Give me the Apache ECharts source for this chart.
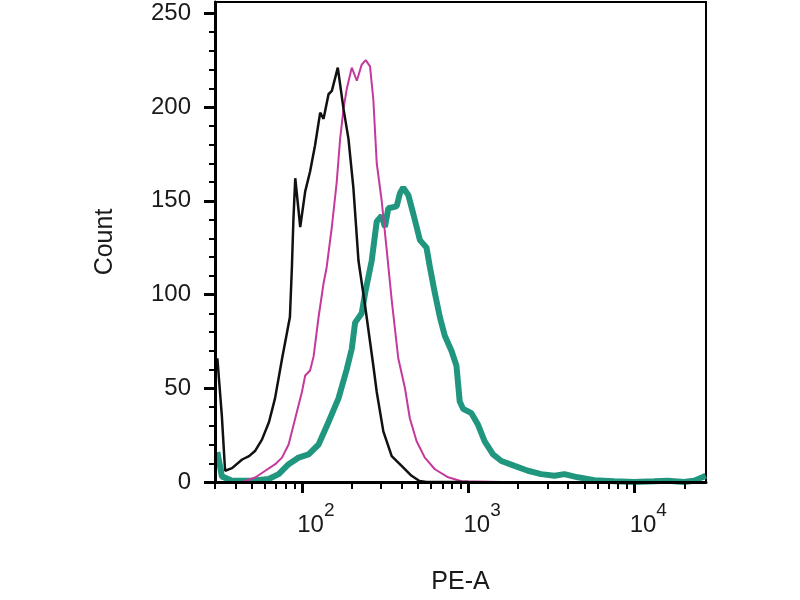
<!DOCTYPE html>
<html>
<head>
<meta charset="utf-8">
<script src="https://cdn.jsdelivr.net/npm/echarts@6/dist/echarts.min.js"></script>
<style>
html,body{margin:0;padding:0;background:#fff;}
#main{width:800px;height:600px;}
</style>
</head>
<body>
<div id="main"></div>
<script>
// PE-A intensity (linear units) and counts
var blackX = [31, 33, 34.5, 38, 43.7, 48.1, 52.2, 57.5, 63.4, 68.9, 75.9, 81.3, 84.7, 87.1, 88.9, 91.2, 97.7, 104.7, 112, 120, 128.8, 135, 144.6, 151.4, 164.4, 178, 190.6, 204, 219, 240, 269, 282, 309, 347, 398, 457, 510, 562, 1000];
var blackY = [66, 35, 6, 7.4, 12, 13.8, 16.5, 22.6, 32, 44.6, 65.6, 79.6, 88, 115, 140, 162, 136, 155, 165.6, 179.6, 197, 193.7, 206.8, 208.6, 221, 199, 183, 157, 118, 94, 62, 48, 27, 13.8, 8.6, 3.3, 0.5, 0, 0];

var magentaX = [31.7, 43.7, 52.4, 60.2, 69.1, 75.9, 83.2, 91.2, 100, 104.7, 112, 117.6, 126, 135, 141, 151.4, 162, 169.8, 178, 186, 199.5, 214, 229, 242, 257, 269, 282, 302, 324, 347, 380, 417, 446, 490, 549, 631, 759, 912, 1585];
var magentaY = [0, 0, 2.4, 6, 9.5, 13, 20, 34, 48, 56.8, 59.5, 67, 88, 106, 114.7, 136, 160, 183, 199, 209.5, 221, 214, 222.6, 225, 221.7, 204, 170, 150, 123.5, 97, 66, 50, 34, 21.7, 13, 6.8, 2.5, 0.4, 0];

var tealX = [31, 33, 38, 50.1, 63.1, 72.5, 83.2, 95.5, 109.7, 126, 144.6, 166, 186, 199.5, 209, 229, 240, 263, 282, 302, 316, 331, 371.5, 389, 407, 437, 468, 513, 562, 588, 631, 676, 724, 794, 851, 890, 933, 1047, 1148, 1258, 1413, 1585, 1904, 2290, 2754, 3308, 3797, 4570, 5748, 7575, 9986, 13160, 15840, 19920, 22870, 25690, 26890];
var tealY = [16, 3, 0.7, 0.7, 1.6, 4.2, 9.5, 13, 14.7, 20, 32, 44.6, 60, 71, 85, 90, 100.7, 118, 139, 142, 136, 146, 147, 154, 157, 153, 143, 129, 125, 115, 100.7, 88, 78, 70, 62, 43, 39, 36.7, 30.5, 21.7, 14.7, 11.2, 8.6, 6, 4.2, 3.3, 4.2, 2.5, 1, 0.4, 0, 0.4, 0.7, 0, 0.7, 2.5, 3.3];

var xMajor = [100, 1000, 10000];
var xMinor = [30, 40, 50, 60, 70, 80, 90, 200, 300, 400, 500, 600, 700, 800, 900, 2000, 3000, 4000, 5000, 6000, 7000, 8000, 9000, 20000];
var yMajor = [0, 50, 100, 150, 200, 250];
var yMinor = [10, 20, 30, 40, 60, 70, 80, 90, 110, 120, 130, 140, 160, 170, 180, 190, 210, 220, 230, 240];

var xMin = Math.log10(30), xMax = Math.log10(27000);
var yMax = 256;

function pairs(xs, ys){
    var out = [];
    for(var i = 0; i < xs.length; i++){
        out.push([Math.log10(xs[i]), ys[i]]);
    }
    return out;
}
function logs(arr){
    return arr.map(function(v){ return Math.log10(v); });
}

var font = 'Liberation Sans, Arial, sans-serif';
var txt = '#1a1a1a';

var myChart = echarts.init(document.getElementById('main'));
var option = {
    backgroundColor: '#fff',
    animation: false,
    grid: {
        left: 215,
        right: 94,
        top: 2,
        bottom: 112,
        show: true,
        borderColor: '#000',
        borderWidth: 2,
        backgroundColor: '#fff'
    },
    xAxis: [
        {
            type: 'value',
            min: xMin,
            max: xMax,
            position: 'bottom',
            z: 5,
            name: 'PE-A',
            nameLocation: 'middle',
            nameGap: 88,
            nameTextStyle: { fontFamily: font, fontSize: 25, color: txt },
            axisLine: { onZero: false, lineStyle: { color: '#000', width: 3 } },
            axisTick: { customValues: logs(xMajor), length: 11, lineStyle: { color: '#000', width: 3 } },
            axisLabel: {
                customValues: logs(xMajor),
                margin: 19,
                padding: [0, 0, 0, 28],
                formatter: function(v){
                    return '{b|10}{s|' + Math.round(v) + '}';
                },
                rich: {
                    b: { fontFamily: font, fontSize: 24, color: txt, verticalAlign: 'bottom' },
                    s: { fontFamily: font, fontSize: 19, color: txt, verticalAlign: 'top', padding: [0, 0, 17, 0] }
                }
            },
            splitLine: { show: false }
        },
        {
            type: 'value',
            min: xMin,
            max: xMax,
            position: 'bottom',
            z: 5,
            axisLine: { show: false, onZero: false },
            axisTick: { customValues: logs(xMinor), length: 7, lineStyle: { color: '#000', width: 2 } },
            axisLabel: { show: false },
            splitLine: { show: false }
        }
    ],
    yAxis: [
        {
            type: 'value',
            min: 0,
            max: yMax,
            position: 'left',
            z: 5,
            name: 'Count',
            nameLocation: 'middle',
            nameGap: 97,
            nameRotate: 90,
            nameTextStyle: { fontFamily: font, fontSize: 25, color: txt },
            axisLine: { onZero: false, lineStyle: { color: '#000', width: 3 } },
            axisTick: { customValues: yMajor, length: 11, lineStyle: { color: '#000', width: 3 } },
            axisLabel: { customValues: yMajor, margin: 24, fontFamily: font, fontSize: 24, color: txt },
            splitLine: { show: false }
        },
        {
            type: 'value',
            min: 0,
            max: yMax,
            position: 'left',
            z: 5,
            axisLine: { show: false, onZero: false },
            axisTick: { customValues: yMinor, length: 6, lineStyle: { color: '#000', width: 2 } },
            axisLabel: { show: false },
            splitLine: { show: false }
        }
    ],
    series: [
        {
            name: 'stained',
            type: 'line',
            xAxisIndex: 0,
            yAxisIndex: 0,
            showSymbol: false,
            lineStyle: { color: '#21967f', width: 6 },
            data: pairs(tealX, tealY)
        },
        {
            name: 'isotype',
            type: 'line',
            xAxisIndex: 0,
            yAxisIndex: 0,
            showSymbol: false,
            lineStyle: { color: '#c4399b', width: 2 },
            data: pairs(magentaX, magentaY)
        },
        {
            name: 'blank',
            type: 'line',
            xAxisIndex: 0,
            yAxisIndex: 0,
            showSymbol: false,
            lineStyle: { color: '#111', width: 2.5 },
            data: pairs(blackX, blackY)
        }
    ]
};
myChart.setOption(option);
</script>
</body>
</html>
